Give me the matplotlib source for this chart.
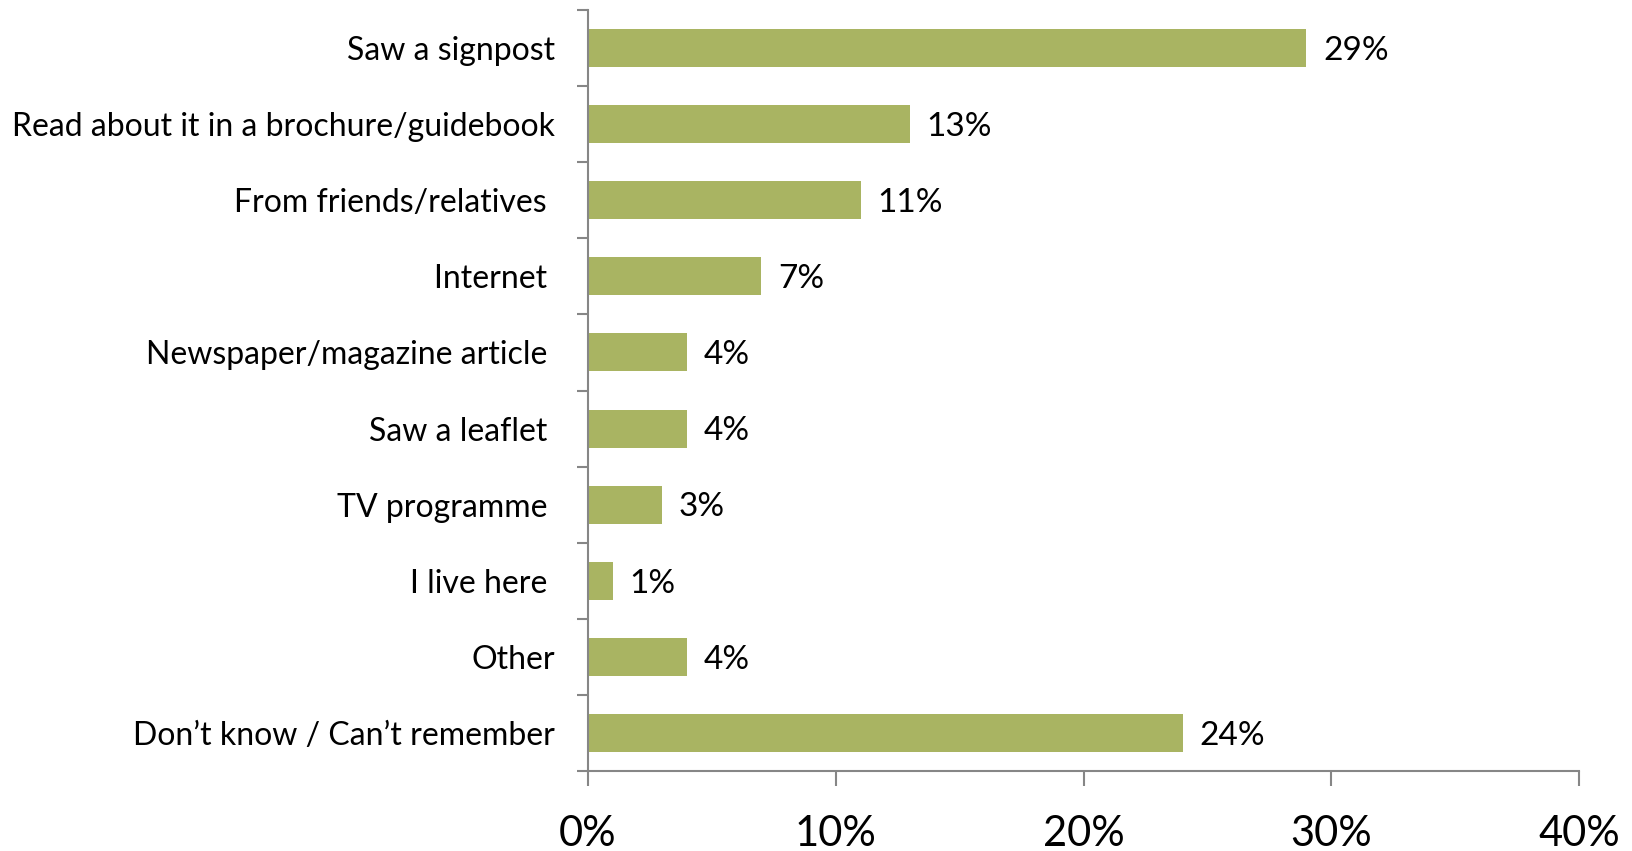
import matplotlib
matplotlib.use("Agg")
import matplotlib.pyplot as plt
from matplotlib.ticker import FixedLocator, FuncFormatter

plt.rcParams['font.family'] = ['Lato', 'DejaVu Sans']

categories = [
    "Saw a signpost",
    "Read about it in a brochure/guidebook",
    "From friends/relatives ",
    "Internet ",
    "Newspaper/magazine article ",
    "Saw a leaflet ",
    "TV programme ",
    "I live here ",
    "Other",
    "Don\u2019t know / Can\u2019t remember",
]
values = [29, 13, 11, 7, 4, 4, 3, 1, 4, 24]
value_labels = ["29%", "13%", "11%", "7%", "4%", "4%", "3%", "1%", "4%", "24%"]
x_ticks = [0, 10, 20, 30, 40]
x_tick_labels = ["0%", "10%", "20%", "30%", "40%"]

bar_color = "#A9B462"
axis_color = "#868686"

fig = plt.figure(figsize=(16.32, 8.51), dpi=100)
ax = fig.add_axes([588 / 1632, 1 - 771 / 851, (1579 - 588) / 1632, (771 - 10) / 851])

pos = list(range(len(categories)))
ax.barh(pos, values, height=0.5, color=bar_color, zorder=2)

for p, v, lab in zip(pos, values, value_labels):
    ax.annotate(lab, xy=(v, p), xytext=(12, -2), textcoords="offset points",
                va="center", ha="left", fontsize=24, color="#000000")

ax.set_xlim(0, 40)
ax.set_ylim(len(categories) - 0.5, -0.5)

for s in ["top", "right"]:
    ax.spines[s].set_visible(False)
for s in ["left", "bottom"]:
    ax.spines[s].set_color(axis_color)
    ax.spines[s].set_linewidth(1.5)

ax.xaxis.set_major_locator(FixedLocator(x_ticks))
ax.xaxis.set_major_formatter(FuncFormatter(lambda v, i: x_tick_labels[i] if i < len(x_tick_labels) else ""))
ax.tick_params(axis="x", which="major", direction="out", length=11, width=1.5,
               color=axis_color, labelsize=30, pad=21)

# category boundaries carry the tick marks, centres carry the labels
ax.yaxis.set_major_locator(FixedLocator([i - 0.5 for i in range(len(categories) + 1)]))
ax.yaxis.set_major_formatter(FuncFormatter(lambda v, i: ""))
ax.yaxis.set_minor_locator(FixedLocator(pos))
ax.yaxis.set_minor_formatter(FuncFormatter(lambda v, i: categories[i]))
ax.tick_params(axis="y", which="major", direction="out", length=8, width=1.5, color=axis_color)
ax.tick_params(axis="y", which="minor", length=0, labelsize=23, pad=23.5)

fig.savefig("out.png", dpi=100, facecolor="white")
